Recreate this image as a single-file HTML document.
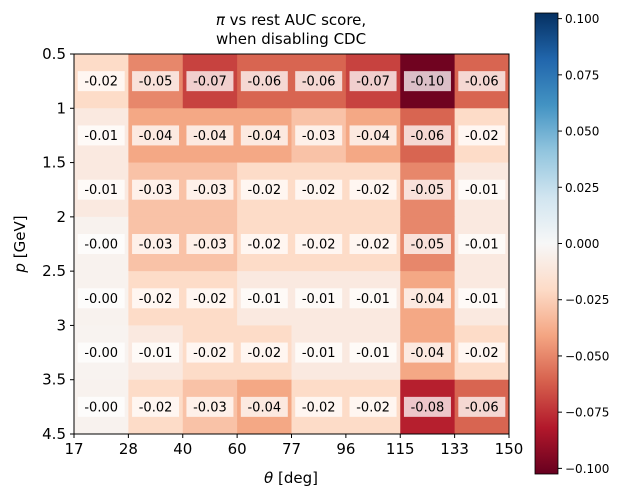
<!DOCTYPE html><html><head><meta charset="utf-8"><style>body{margin:0;background:#fff}svg{font-family:"DejaVu Sans","Liberation Sans",sans-serif}</style></head><body>
<svg id="c" width="628" height="499"></svg>
<script>
const xTicks=["17","28","40","60","77","96","115","133","150"];
const yTicks=["0.5","1","1.5","2","2.5","3","3.5","4.5"];
const row0=[-0.02,-0.05,-0.07,-0.06,-0.06,-0.07,-0.10,-0.06];
const row1=[-0.01,-0.04,-0.04,-0.04,-0.03,-0.04,-0.06,-0.02];
const row2=[-0.01,-0.03,-0.03,-0.02,-0.02,-0.02,-0.05,-0.01];
const row3=[-0.004,-0.03,-0.03,-0.02,-0.02,-0.02,-0.05,-0.01];
const row4=[-0.004,-0.02,-0.02,-0.01,-0.01,-0.01,-0.04,-0.01];
const row5=[-0.003,-0.01,-0.02,-0.02,-0.01,-0.01,-0.04,-0.02];
const row6=[-0.004,-0.02,-0.03,-0.04,-0.02,-0.02,-0.08,-0.06];
const rows=[row0,row1,row2,row3,row4,row5,row6];
const cbTicks=["0.100","0.075","0.050","0.025","0.000","-0.025","-0.050","-0.075","-0.100"];
const vmax=0.1025;
const stops=["#67001f","#b2182b","#d6604d","#f4a582","#fddbc7","#f7f7f7","#d1e5f0","#92c5de","#4393c3","#2166ac","#053061"];
function hex(h){return[1,3,5].map(i=>parseInt(h.substr(i,2),16));}
function cmap(v){let t=(v+vmax)/(2*vmax);t=Math.max(0,Math.min(1,t))*10;let i=Math.min(9,Math.floor(t)),f=t-i;const a=hex(stops[i]),b=hex(stops[i+1]);return"rgb("+a.map((x,k)=>Math.round(x+(b[k]-x)*f)).join(",")+")";}
const L=74,R=509,T=54,B=434;
const cw=(R-L)/xTicks.slice(1).length, rh=(B-T)/rows.length;
const xs=i=>L+i*cw, ys=j=>T+j*rh;
const svg=document.getElementById('c');const NS="http://www.w3.org/2000/svg";
function el(t,a,p){const e=document.createElementNS(NS,t);for(const k in a)e.setAttribute(k,a[k]);(p||svg).appendChild(e);return e;}
rows.forEach((r,j)=>r.forEach((v,i)=>{
 const c=el('rect',{x:xs(i),y:ys(j),width:cw+0.5,height:rh+0.5,fill:cmap(v)});
 
 
 const cx=xs(i)+cw/2,cy=ys(j)+rh/2;
 const bx=el('rect',{x:cx-23.5,y:cy-10,width:47,height:20,fill:"#fff","fill-opacity":0.75});
 
 
 const tx=el('text',{x:cx,y:cy+4.5,"text-anchor":"middle","font-size":13,fill:"#000"});tx.textContent=v.toFixed(2);
 
 
}));
const fr=el('rect',{x:L,y:T,width:R-L,height:B-T,fill:"none",stroke:"#000","stroke-width":1});

xTicks.forEach((t,i)=>{el('line',{x1:xs(i),x2:xs(i),y1:B,y2:B+4,stroke:"#000"});const e=el('text',{x:xs(i),y:B+20,"text-anchor":"middle","font-size":15});e.textContent=t;
 });
yTicks.forEach((t,j)=>{el('line',{x1:L-4,x2:L,y1:ys(j),y2:ys(j),stroke:"#000"});const e=el('text',{x:L-8,y:ys(j)+5,"text-anchor":"end","font-size":15});e.textContent=t;
 });
const cL=535,cW=23,cT=13,cB=474;
const cy=v=>cT+(vmax-v)/(2*vmax)*(cB-cT);
const g=el('linearGradient',{id:"gr",x1:0,y1:1,x2:0,y2:0},el('defs',{}));
stops.forEach((s,k)=>el('stop',{offset:k/10,"stop-color":s},g));
const cb=el('rect',{x:cL,y:cT,width:cW,height:cB-cT,fill:"url(#gr)",stroke:"#000","stroke-width":0.8});

cbTicks.forEach(s=>{const v=parseFloat(s);el('line',{x1:cL+cW,x2:cL+cW+4,y1:cy(v),y2:cy(v),stroke:"#000"});const e=el('text',{x:cL+cW+7,y:cy(v)+4.5,"font-size":12});e.textContent=s.replace("-","\u2212");
 });
</script>
<svg style="position:absolute;left:0;top:0" width="628" height="499">
<text x="291" y="25" text-anchor="middle" font-size="15" font-family="DejaVu Sans,sans-serif"><tspan font-style="italic">π</tspan> vs rest AUC score,</text>
<text x="291" y="44" text-anchor="middle" font-size="15" font-family="DejaVu Sans,sans-serif">when disabling CDC</text>
<text x="291" y="483" text-anchor="middle" font-size="15" font-family="DejaVu Sans,sans-serif"><tspan font-style="italic">θ</tspan> [deg]</text>
<text transform="translate(25,244) rotate(-90)" text-anchor="middle" font-size="15" font-family="DejaVu Sans,sans-serif"><tspan font-style="italic">p</tspan> [GeV]</text>
</svg>
</body></html>
